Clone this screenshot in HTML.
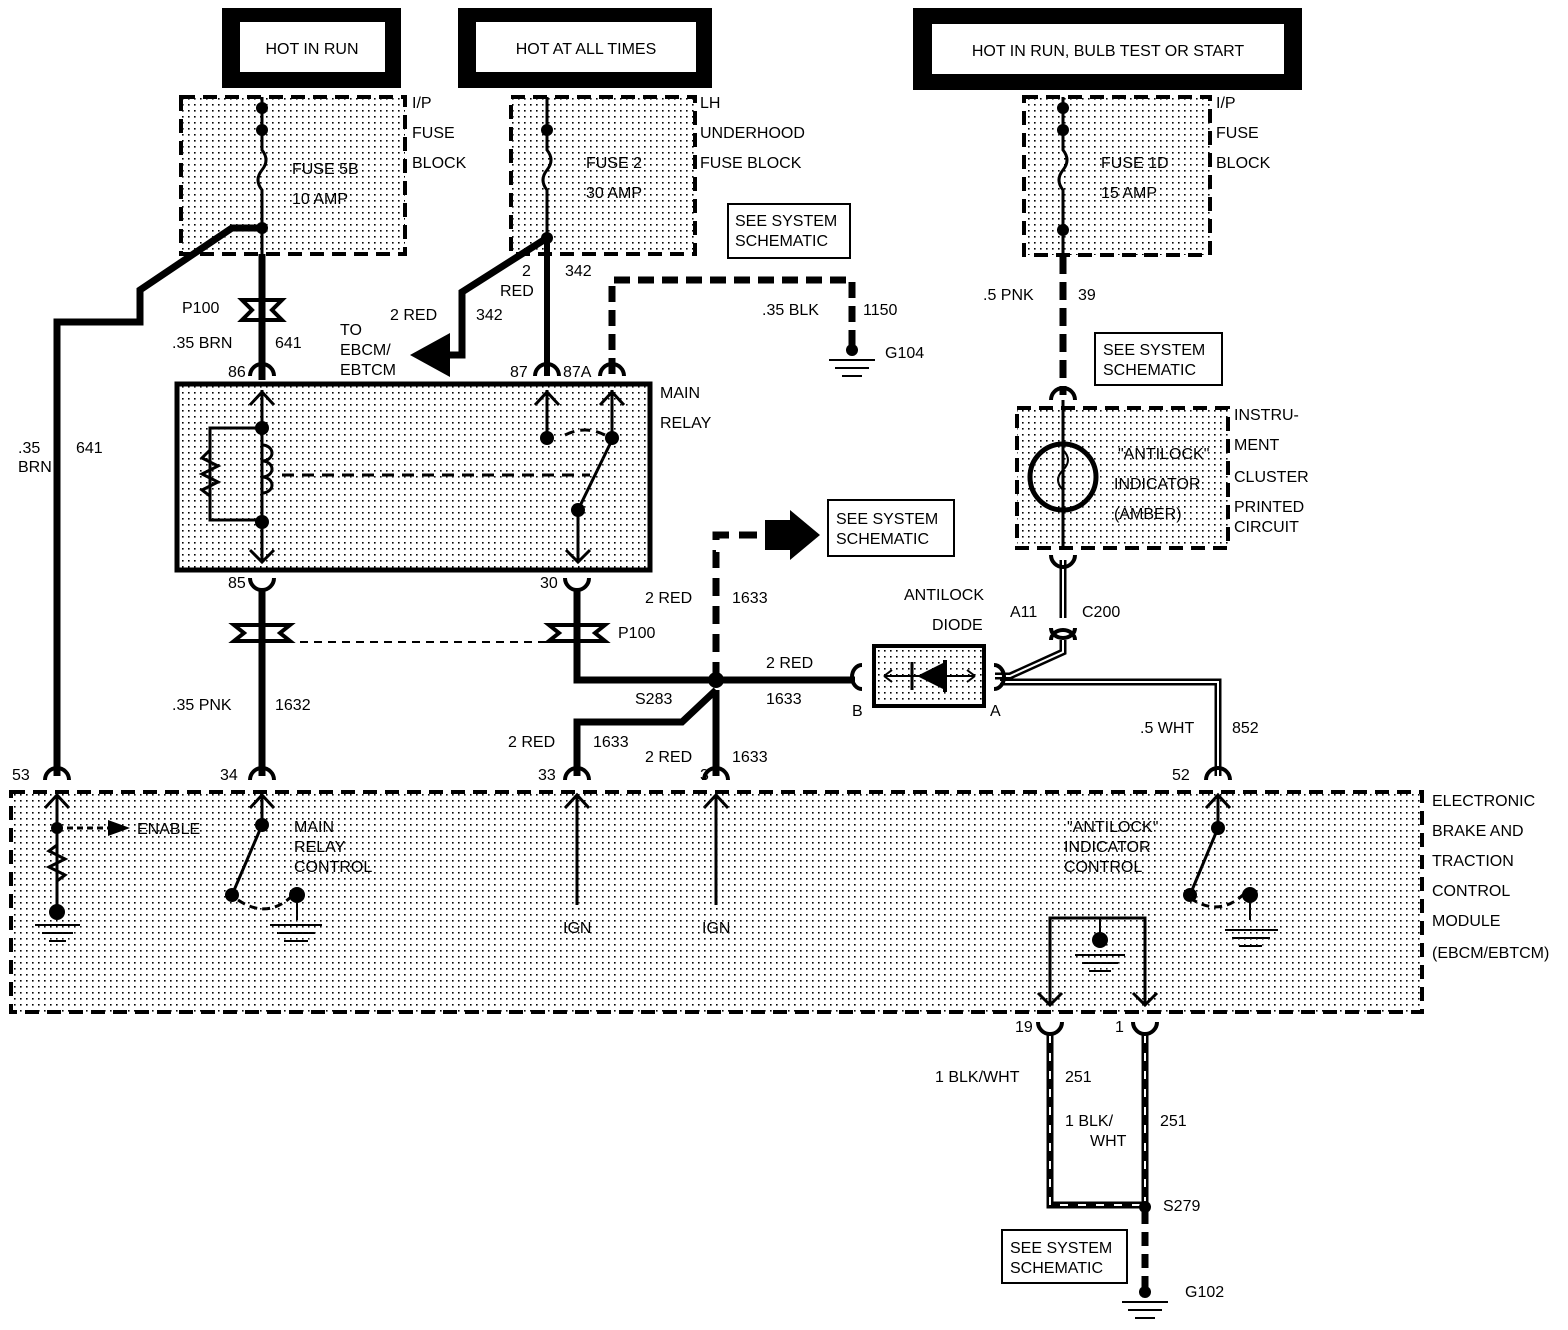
<!DOCTYPE html>
<html><head><meta charset="utf-8"><style>
html,body{margin:0;padding:0;background:#fff;}
svg{display:block;}
text{font-family:"Liberation Sans",sans-serif;font-size:16px;fill:#000;}
</style></head><body>
<svg width="1568" height="1330" viewBox="0 0 1568 1330" xmlns="http://www.w3.org/2000/svg">
<defs>
<pattern id="dots" width="6" height="6" patternUnits="userSpaceOnUse"><rect x="2" y="2" width="1.6" height="1.6" fill="#000"/></pattern>
</defs>

<!-- header boxes -->
<rect x="222" y="8" width="179" height="80" fill="#000"/><rect x="240" y="22" width="145" height="50" fill="#fff"/>
<text x="312" y="54" text-anchor="middle">HOT IN RUN</text>
<rect x="458" y="8" width="254" height="80" fill="#000"/><rect x="476" y="22" width="220" height="50" fill="#fff"/>
<text x="586" y="54" text-anchor="middle">HOT AT ALL TIMES</text>
<rect x="913" y="8" width="389" height="82" fill="#000"/><rect x="932" y="24" width="352" height="50" fill="#fff"/>
<text x="1108" y="56" text-anchor="middle">HOT IN RUN, BULB TEST OR START</text>

<!-- fuse blocks -->
<g fill="url(#dots)" stroke="#000" stroke-width="4" stroke-dasharray="14,8">
<rect x="181" y="97" width="224" height="157"/>
<rect x="511" y="97" width="184" height="157"/>
<rect x="1024" y="97" width="186" height="158"/>
<rect x="1017" y="408" width="211" height="140"/>
<rect x="11" y="792" width="1411" height="220"/>
</g>
<rect x="177" y="384" width="473" height="186" fill="url(#dots)" stroke="#000" stroke-width="5"/>
<rect x="874" y="646" width="110" height="60" fill="url(#dots)" stroke="#000" stroke-width="4"/>

<g stroke="#000" fill="none">
<!-- fuse 5B -->
<path d="M262 97 V150 q8 10 0 20 q-8 10 0 20 V380" stroke-width="3"/>
<path d="M262 228 H232 L140 290 V322 H57 V776" stroke-width="7"/>
<path d="M262 254 V380" stroke-width="7"/>
<!-- fuse 2 -->
<path d="M547 97 V150 q8 10 0 20 q-8 10 0 20 V238" stroke-width="3"/>
<path d="M547 238 V376" stroke-width="6"/>
<path d="M547 238 L462 292 V355 H440" stroke-width="7"/>
<!-- 87A dashed -->
<path d="M612 374 V280 H852 V348" stroke-width="7" stroke-dasharray="16,8"/>
<!-- right fuse -->
<path d="M1063 97 V150 q8 10 0 20 q-8 10 0 20 V256" stroke-width="3"/>
<path d="M1063 256 V395" stroke-width="7" stroke-dasharray="18,8"/>
<!-- cluster inner -->
<path d="M1063 400 V548" stroke-width="3"/>
<circle cx="1063" cy="477" r="33" stroke-width="5"/>
<path d="M1063 450 q10 10 0 20 q-10 10 0 20" stroke-width="2"/>
<!-- double wire cluster to C200 -->
<path d="M1063 560 V618" stroke-width="7"/><path d="M1063 560 V618" stroke="#fff" stroke-width="2"/>
<path d="M1063 640 V652 L1010 676 H995" stroke-width="7"/><path d="M1063 640 V652 L1010 676 H995" stroke="#fff" stroke-width="2"/>
<path d="M1000 682 H1218 V776" stroke-width="7"/><path d="M1000 682 H1218 V776" stroke="#fff" stroke-width="2"/>
<!-- relay bottom wires -->
<path d="M262 590 V776" stroke-width="7"/>
<path d="M577 590 V680 H855" stroke-width="7"/>
<path d="M716 690 V776" stroke-width="7"/>
<path d="M716 690 L682 722 H577 V776" stroke-width="7"/>
<path d="M716 680 V535 H765" stroke-width="7" stroke-dasharray="18,10"/>
<path d="M300 642 H560" stroke-width="2" stroke-dasharray="8,6"/>
<!-- relay internals -->
<path d="M262 390 V560 M250 405 L262 392 L274 405 M250 550 L262 562 L274 550" stroke-width="3"/>
<path d="M262 428 H210 V520 H262" stroke-width="3"/>
<path d="M210 450 l-8 8 l16 8 l-16 8 l16 8 l-16 8 l8 6" stroke-width="3"/>
<path d="M262 445 a10 8 0 0 1 0 16 a10 8 0 0 1 0 16 a10 8 0 0 1 0 16" stroke-width="3"/>
<path d="M282 475 H590" stroke-width="3" stroke-dasharray="12,8"/>
<path d="M547 390 V438 M535 405 L547 392 L559 405" stroke-width="3"/>
<path d="M612 390 V438 M600 405 L612 392 L624 405" stroke-width="3"/>
<path d="M565 435 q20 -10 40 0" stroke-width="3" stroke-dasharray="10,6"/>
<path d="M612 440 L578 510 V560 M566 550 L578 562 L590 550" stroke-width="3"/>
<!-- EBCM internals -->
<path d="M57 795 V912 M45 808 L57 795 L69 808" stroke-width="3"/>
<path d="M57 828 H115" stroke-width="3" stroke-dasharray="6,4"/>
<path d="M57 845 l-8 6 l16 8 l-16 8 l16 8 l-8 6" stroke-width="3"/>
<path d="M35 925 H80 M42 933 H73 M49 941 H66" stroke-width="2"/>
<path d="M262 795 V825 M250 808 L262 795 L274 808 M262 825 L232 895" stroke-width="3"/>
<path d="M238 900 q30 20 55 -5" stroke-width="3" stroke-dasharray="8,5"/>
<path d="M297 895 V920 M270 925 H322 M277 933 H315 M284 941 H308" stroke-width="2"/>
<path d="M577 795 V905 M565 808 L577 795 L589 808" stroke-width="3"/>
<path d="M716 795 V905 M704 808 L716 795 L728 808" stroke-width="3"/>
<path d="M1218 795 V828 L1190 895 M1206 808 L1218 795 L1230 808" stroke-width="3"/>
<path d="M1190 898 q30 20 55 -5" stroke-width="3" stroke-dasharray="8,5"/>
<path d="M1250 895 V920 M1225 930 H1278 M1232 938 H1270 M1239 946 H1262" stroke-width="2"/>
<path d="M1050 1005 V918 H1145 V1005 M1038 993 L1050 1005 L1062 993 M1133 993 L1145 1005 L1157 993" stroke-width="3"/>
<path d="M1100 918 V940 M1075 955 H1125 M1082 963 H1118 M1089 971 H1111" stroke-width="2"/>
<!-- bottom wires -->
<path d="M1050 1035 V1205 H1145" stroke-width="7"/>
<path d="M1050 1035 V1205 H1145" stroke="#fff" stroke-width="2" stroke-dasharray="8,10"/>
<path d="M1145 1035 V1205" stroke-width="7"/>
<path d="M1145 1035 V1205" stroke="#fff" stroke-width="2" stroke-dasharray="8,10"/>
<path d="M1145 1210 V1290" stroke-width="7" stroke-dasharray="14,8"/>
<path d="M1122 1302 H1168 M1128 1310 H1162 M1135 1318 H1155" stroke-width="2"/>
<path d="M829 360 H875 M835 368 H869 M842 376 H862" stroke-width="2"/>
<!-- diode -->
<path d="M884 676 H975 M884 676 l8 -6 M884 676 l8 6 M975 676 l-8 -6 M975 676 l-8 6" stroke-width="2"/>
<path d="M912 662 V690" stroke-width="3"/>
<!-- connector cups -->
<g stroke-width="4">
<path d="M250 376 a12 12 0 0 1 24 0"/><path d="M535 376 a12 12 0 0 1 24 0"/><path d="M600 376 a12 12 0 0 1 24 0"/>
<path d="M250 578 a12 12 0 0 0 24 0"/><path d="M565 578 a12 12 0 0 0 24 0"/>
<path d="M1051 400 a12 12 0 0 1 24 0"/><path d="M1051 555 a12 12 0 0 0 24 0"/>
<path d="M45 780 a12 12 0 0 1 24 0"/><path d="M250 780 a12 12 0 0 1 24 0"/><path d="M565 780 a12 12 0 0 1 24 0"/><path d="M704 780 a12 12 0 0 1 24 0"/><path d="M1206 780 a12 12 0 0 1 24 0"/>
<path d="M1038 1022 a12 12 0 0 0 24 0"/><path d="M1133 1022 a12 12 0 0 0 24 0"/>
<path d="M1051 628 a12 10 0 0 0 24 0 M1051 640 a12 10 0 0 1 24 0"/>
<path d="M862 665 a10 12 0 0 0 0 24 M994 665 a10 12 0 0 1 0 24"/>
<path d="M242 300 H282 L272 310 L282 320 H242 L252 310 Z"/>
<path d="M234 625 H290 L280 633 L290 641 H234 L244 633 Z"/>
<path d="M549 625 H605 L595 633 L605 641 H549 L559 633 Z"/>
</g>
</g>
<!-- filled shapes -->
<g fill="#000">
<circle cx="262" cy="108" r="6"/><circle cx="262" cy="130" r="6"/><circle cx="262" cy="228" r="6"/>
<circle cx="547" cy="130" r="6"/><circle cx="547" cy="238" r="6"/>
<circle cx="1063" cy="108" r="6"/><circle cx="1063" cy="130" r="6"/><circle cx="1063" cy="230" r="6"/>
<circle cx="262" cy="428" r="7"/><circle cx="262" cy="522" r="7"/><circle cx="547" cy="438" r="7"/><circle cx="612" cy="438" r="7"/><circle cx="578" cy="510" r="7"/>
<circle cx="716" cy="680" r="8"/><circle cx="852" cy="350" r="6"/>
<circle cx="57" cy="828" r="6"/><circle cx="57" cy="912" r="8"/><circle cx="262" cy="825" r="7"/><circle cx="232" cy="895" r="7"/><circle cx="297" cy="895" r="8"/>
<circle cx="1218" cy="828" r="7"/><circle cx="1190" cy="895" r="7"/><circle cx="1250" cy="895" r="8"/><circle cx="1100" cy="940" r="8"/>
<circle cx="1145" cy="1207" r="6"/><circle cx="1145" cy="1292" r="6"/>
<path d="M410 355 L450 333 V377 Z"/>
<path d="M765 520 H790 V510 L820 535 L790 560 V550 H765 Z"/>
<path d="M108 820 L130 828 L108 836 Z"/>
<path d="M917 676 L945 662 V690 Z"/><rect x="943" y="660" width="4" height="32"/>
</g>
<rect x="716" y="548" width="4" height="4" fill="#fff"/>
<!-- small boxes -->
<g fill="#fff" stroke="#000" stroke-width="2">
<rect x="728" y="204" width="122" height="54"/>
<rect x="1095" y="333" width="127" height="52"/>
<rect x="828" y="500" width="126" height="56"/>
<rect x="1002" y="1230" width="125" height="53"/>
</g>
<text x="735" y="226">SEE SYSTEM</text><text x="735" y="246">SCHEMATIC</text>
<text x="1103" y="355">SEE SYSTEM</text><text x="1103" y="375">SCHEMATIC</text>
<text x="836" y="524">SEE SYSTEM</text><text x="836" y="544">SCHEMATIC</text>
<text x="1010" y="1253">SEE SYSTEM</text><text x="1010" y="1273">SCHEMATIC</text>

<text x="412" y="108">I/P</text><text x="412" y="138">FUSE</text><text x="412" y="168">BLOCK</text>
<text x="700" y="108">LH</text><text x="700" y="138">UNDERHOOD</text><text x="700" y="168">FUSE BLOCK</text>
<text x="1216" y="108">I/P</text><text x="1216" y="138">FUSE</text><text x="1216" y="168">BLOCK</text>
<text x="292" y="174">FUSE 5B</text><text x="292" y="204">10 AMP</text>
<text x="586" y="168">FUSE 2</text><text x="586" y="198">30 AMP</text>
<text x="1101" y="168">FUSE 1D</text><text x="1101" y="198">15 AMP</text>
<text x="182" y="313">P100</text>
<text x="172" y="348">.35 BRN</text><text x="275" y="348">641</text>
<text x="340" y="335">TO</text><text x="340" y="355">EBCM/</text><text x="340" y="375">EBTCM</text>
<text x="390" y="320">2 RED</text><text x="476" y="320">342</text>
<text x="522" y="276">2</text><text x="500" y="296">RED</text><text x="565" y="276">342</text>
<text x="762" y="315">.35 BLK</text><text x="863" y="315">1150</text><text x="885" y="358">G104</text>
<text x="983" y="300">.5 PNK</text><text x="1078" y="300">39</text>
<text x="228" y="377">86</text><text x="510" y="377">87</text><text x="563" y="377">87A</text>
<text x="660" y="398">MAIN</text><text x="660" y="428">RELAY</text>
<text x="18" y="453">.35</text><text x="18" y="472">BRN</text><text x="76" y="453">641</text>
<text x="1234" y="420">INSTRU-</text><text x="1234" y="450">MENT</text><text x="1234" y="482">CLUSTER</text><text x="1234" y="512">PRINTED</text><text x="1234" y="532">CIRCUIT</text>
<text x="1118" y="459">"ANTILOCK"</text><text x="1114" y="489">INDICATOR</text><text x="1114" y="519">(AMBER)</text>
<text x="228" y="588">85</text><text x="540" y="588">30</text>
<text x="645" y="603">2 RED</text><text x="732" y="603">1633</text>
<text x="618" y="638">P100</text>
<text x="904" y="600">ANTILOCK</text><text x="932" y="630">DIODE</text>
<text x="1010" y="617">A11</text><text x="1082" y="617">C200</text>
<text x="766" y="668">2 RED</text><text x="766" y="704">1633</text>
<text x="852" y="716">B</text><text x="990" y="716">A</text>
<text x="172" y="710">.35 PNK</text><text x="275" y="710">1632</text>
<text x="635" y="704">S283</text>
<text x="508" y="747">2 RED</text><text x="593" y="747">1633</text>
<text x="645" y="762">2 RED</text><text x="732" y="762">1633</text>
<text x="1140" y="733">.5 WHT</text><text x="1232" y="733">852</text>
<text x="12" y="780">53</text><text x="220" y="780">34</text><text x="538" y="780">33</text><text x="700" y="780">3</text><text x="1172" y="780">52</text>
<text x="137" y="834">ENABLE</text>
<text x="294" y="832">MAIN</text><text x="294" y="852">RELAY</text><text x="294" y="872">CONTROL</text>
<text x="563" y="933">IGN</text><text x="702" y="933">IGN</text>
<text x="1067" y="832">"ANTILOCK"</text><text x="1064" y="852">INDICATOR</text><text x="1064" y="872">CONTROL</text>
<text x="1432" y="806">ELECTRONIC</text><text x="1432" y="836">BRAKE AND</text><text x="1432" y="866">TRACTION</text><text x="1432" y="896">CONTROL</text><text x="1432" y="926">MODULE</text><text x="1432" y="958">(EBCM/EBTCM)</text>
<text x="1015" y="1032">19</text><text x="1115" y="1032">1</text>
<text x="935" y="1082">1 BLK/WHT</text><text x="1065" y="1082">251</text>
<text x="1065" y="1126">1 BLK/</text><text x="1090" y="1146">WHT</text><text x="1160" y="1126">251</text>
<text x="1163" y="1211">S279</text><text x="1185" y="1297">G102</text>
</svg>
</body></html>
